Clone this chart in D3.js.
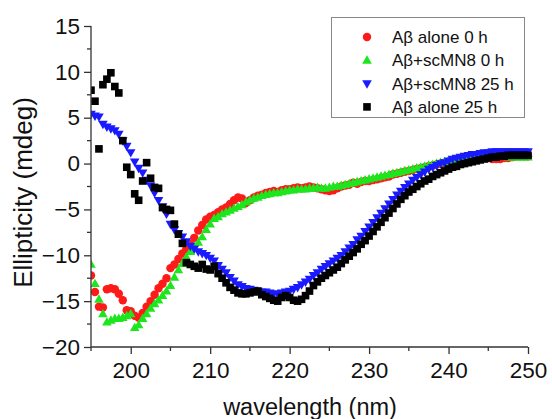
<!DOCTYPE html>
<html>
<head>
<meta charset="utf-8">
<script src="https://cdn.jsdelivr.net/npm/d3@7"></script>
<style>
  html, body { margin: 0; padding: 0; background: #fff; }
  svg { display: block; font-family: "Liberation Sans", Arial, sans-serif; }
</style>
</head>
<body>
<svg id="chart" width="552" height="419"></svg>
<script>
// CD spectra sampled every 0.5 nm from 195 to 250 nm
const wavelength = d3.range(195, 250.001, 0.5);

const abAlone0h = [
  -12.2, -14.0, -15.6, -15.7, -13.7, -13.6, -13.7, -14.2, -14.9, -16.0,
  -16.1, -16.6, -16.8, -16.3, -15.6, -15.0, -14.3, -13.6, -13.1, -12.5,
  -11.4, -11.0, -10.4, -9.8, -9.3, -8.8, -8.1, -7.3, -6.7, -6.1,
  -5.8, -5.6, -5.3, -5.0, -4.8, -4.4, -4.0, -3.7, -3.8, -4.3,
  -4.0, -3.7, -3.5, -3.4, -3.2, -3.1, -3.0, -3.1, -2.9, -2.8,
  -2.8, -2.7, -2.6, -2.7, -2.6, -2.5, -2.6, -2.7, -2.8, -2.9,
  -3.0, -2.9, -2.7, -2.5, -2.4, -2.3, -2.1, -2.2, -2.0, -1.9,
  -1.9, -1.8, -1.7, -1.6, -1.5, -1.4, -1.2, -1.1, -1.0, -0.9,
  -0.8, -0.7, -0.6, -0.5, -0.4, -0.3, -0.2, -0.1, 0.0, 0.1,
  0.2, 0.3, 0.3, 0.4, 0.5, 0.6, 0.7, 0.8, 0.8, 0.7,
  0.6, 0.5, 0.5, 0.5, 0.6, 0.6, 0.7, 0.8, 0.8, 0.8,
  0.8
];

const abScMN8_0h = [
  -11.0, -13.1, -14.8, -16.4, -17.3, -17.1, -16.9, -16.9, -16.8, -16.6,
  -16.4, -17.9, -17.6, -16.9, -16.4, -15.8, -15.3, -14.9, -14.4, -13.9,
  -13.3, -12.4, -11.6, -10.9, -10.2, -9.6, -9.1, -8.6, -8.0, -7.2,
  -6.6, -6.0, -5.8, -5.5, -5.3, -5.1, -4.9, -4.7, -4.5, -4.2,
  -4.0, -3.8, -3.7, -3.5, -3.4, -3.3, -3.2, -3.2, -3.1, -3.0,
  -2.9, -2.9, -2.8, -2.8, -2.8, -2.7, -2.7, -2.6, -2.7, -2.7,
  -2.6, -2.5, -2.5, -2.4, -2.3, -2.2, -2.1, -2.0, -1.9, -1.8,
  -1.7, -1.6, -1.5, -1.4, -1.3, -1.2, -1.1, -1.0, -0.9, -0.8,
  -0.7, -0.6, -0.5, -0.4, -0.3, -0.2, -0.1, 0.0, 0.1, 0.2,
  0.3, 0.4, 0.5, 0.5, 0.6, 0.7, 0.7, 0.8, 0.9, 0.9,
  0.9, 0.9, 0.8, 0.8, 0.8, 0.7, 0.7, 0.7, 0.7, 0.7,
  0.7
];

const abScMN8_25h = [
  5.4, 5.2, 5.1, 4.3, 4.0, 3.8, 3.6, 3.2, 2.5, 1.9,
  1.2, 0.2, -0.5, -1.0, -1.8, -2.4, -3.2, -4.0, -4.7, -5.5,
  -6.6, -7.2, -7.6, -8.0, -8.5, -9.0, -9.3, -9.6, -9.8, -10.0,
  -10.3, -10.6, -11.1, -11.5, -11.9, -12.4, -12.8, -13.2, -13.4, -13.6,
  -13.7, -13.8, -13.9, -14.0, -14.0, -14.1, -14.2, -14.2, -14.1, -14.0,
  -13.9, -13.7, -13.5, -13.2, -12.9, -12.6, -12.2, -11.9, -11.5, -11.2,
  -10.9, -10.6, -10.3, -10.0, -9.6, -9.2, -8.8, -8.3, -7.9, -7.4,
  -6.9, -6.4, -5.9, -5.4, -4.9, -4.4, -3.9, -3.4, -3.0, -2.6,
  -2.2, -1.8, -1.5, -1.2, -0.9, -0.6, -0.4, -0.2, 0.0, 0.1,
  0.3, 0.5, 0.6, 0.7, 0.8, 0.9, 1.0, 1.0, 1.1, 1.2,
  1.2, 1.3, 1.3, 1.3, 1.3, 1.3, 1.3, 1.3, 1.3, 1.3,
  1.3
];

const abAlone25h = [
  8.0, 6.8, 1.6, 8.6, 9.2, 9.9, 8.4, 7.7, 2.5, -0.4,
  -1.2, -3.3, -4.0, -1.9, 0.1, -1.6, -2.6, -2.7, -4.8, -5.0,
  -5.1, -6.6, -7.7, -8.7, -10.8, -11.0, -11.2, -11.4, -11.0, -11.5,
  -11.6, -11.2, -12.0, -12.5, -13.0, -13.5, -13.8, -14.1, -14.2, -14.2,
  -14.1, -14.0, -13.9, -14.3, -14.5, -14.7, -14.9, -15.0, -14.6, -14.4,
  -14.6, -14.9, -15.0, -14.8, -14.4, -13.9, -13.3, -12.9, -12.5, -12.2,
  -11.9, -11.6, -11.3, -10.9, -10.5, -10.1, -9.7, -9.3, -8.8, -8.4,
  -7.9, -7.4, -6.9, -6.4, -5.9, -5.4, -4.9, -4.4, -3.9, -3.5,
  -3.1, -2.8, -2.5, -2.2, -1.9, -1.7, -1.4, -1.2, -1.0, -0.8,
  -0.6, -0.4, -0.3, -0.1, 0.0, 0.1, 0.2, 0.3, 0.4, 0.5,
  0.6, 0.7, 0.7, 0.8, 0.8, 0.9, 0.9, 0.9, 0.9, 0.9,
  0.9
];

const seriesNames = ["A\u03b2 alone 0 h", "A\u03b2+scMN8 0 h", "A\u03b2+scMN8 25 h", "A\u03b2 alone 25 h"];
const seriesValues = [abAlone0h, abScMN8_0h, abScMN8_25h, abAlone25h];
const seriesColors = ["#ff1a1a", "#1ee61e", "#1a1aff", "#000000"];
const seriesShapes = ["circle", "triUp", "triDown", "square"];

const xTicks = [200, 210, 220, 230, 240, 250];
const yTicks = [-20, -15, -10, -5, 0, 5, 10, 15];

const svg = d3.select("#chart");
const plotLeft = 91, plotRight = 528, plotTop = 26, plotBottom = 347;

const x = d3.scaleLinear().domain([195, 250]).range([plotLeft, plotRight]);
const y = d3.scaleLinear().domain([-20, 15]).range([plotBottom, plotTop]);

// marker shapes
function markerPath(shape) {
  if (shape === "circle") return d3.symbol(d3.symbolCircle, 56)();
  if (shape === "square") return d3.symbol(d3.symbolSquare, 58)();
  const h = 8.4, w = 9.6;
  if (shape === "triUp") return `M0,${-h * 0.6}L${w / 2},${h * 0.4}L${-w / 2},${h * 0.4}Z`;
  return `M0,${h * 0.6}L${w / 2},${-h * 0.4}L${-w / 2},${-h * 0.4}Z`;
}

svg.append("defs").append("clipPath").attr("id", "plotClip")
  .append("rect").attr("x", plotLeft).attr("y", 0)
  .attr("width", plotRight - plotLeft + 20).attr("height", plotBottom + 5);

const plot = svg.append("g").attr("clip-path", "url(#plotClip)");
seriesValues.forEach((vals, i) => {
  plot.append("g")
    .selectAll("path")
    .data(wavelength.map((w, j) => [w, vals[j]]))
    .join("path")
    .attr("d", markerPath(seriesShapes[i]))
    .attr("transform", d => `translate(${x(d[0])},${y(d[1])})`)
    .attr("fill", seriesColors[i]);
});

// axes
const axisColor = "#333";
const xAxis = svg.append("g").attr("transform", `translate(0,${plotBottom})`)
  .call(d3.axisBottom(x).tickValues(xTicks).tickSize(7).tickPadding(8).tickFormat(d3.format("d")));
xAxis.append("g").selectAll("line")
  .data([195, 205, 215, 225, 235, 245]).join("line")
  .attr("x1", d => x(d)).attr("x2", d => x(d)).attr("y1", 0).attr("y2", 4)
  .attr("stroke", axisColor).attr("stroke-width", 1.3);

const yAxis = svg.append("g").attr("transform", `translate(${plotLeft},0)`)
  .call(d3.axisLeft(y).tickValues(yTicks).tickSize(7).tickPadding(4).tickFormat(d3.format("d")));
yAxis.append("g").selectAll("line")
  .data([-17.5, -12.5, -7.5, -2.5, 2.5, 7.5, 12.5]).join("line")
  .attr("x1", 0).attr("x2", -4).attr("y1", d => y(d)).attr("y2", d => y(d))
  .attr("stroke", axisColor).attr("stroke-width", 1.3);

xAxis.select(".domain").attr("d", `M${plotLeft},0H${plotRight}`);
yAxis.select(".domain").attr("d", `M0,${plotTop}V${plotBottom}`);
[xAxis, yAxis].forEach(a => {
  a.select(".domain").attr("stroke", axisColor).attr("stroke-width", 1.3);
  a.selectAll(".tick line").attr("stroke", axisColor).attr("stroke-width", 1.3);
  a.selectAll(".tick text").attr("fill", "#111").style("font-size", "22.5px")
    .style("font-family", "'Liberation Sans', Arial, sans-serif");
});

// axis titles
svg.append("text").attr("x", (plotLeft + plotRight) / 2 + 0.5).attr("y", 415)
  .attr("text-anchor", "middle").style("font-size", "23.5px").attr("fill", "#111")
  .text("wavelength (nm)");
svg.append("text").attr("transform", `translate(32,${(95 + 290) / 2}) rotate(-90)`)
  .attr("text-anchor", "middle").style("font-size", "26px").attr("fill", "#111")
  .text("Ellipticity (mdeg)");

// legend
const legend = svg.append("g");
legend.append("rect").attr("x", 331.5).attr("y", 17.5).attr("width", 193).attr("height", 100)
  .attr("fill", "#fff").attr("stroke", "#888").attr("stroke-width", 1);
seriesNames.forEach((name, i) => {
  const cy = 37 + i * 23.3;
  legend.append("path").attr("d", markerPath(seriesShapes[i]))
    .attr("transform", `translate(367,${cy})`).attr("fill", seriesColors[i]);
  legend.append("text").attr("x", 392).attr("y", cy + 6)
    .style("font-size", "17px").attr("fill", "#111").text(name);
});
</script>
</body>
</html>
